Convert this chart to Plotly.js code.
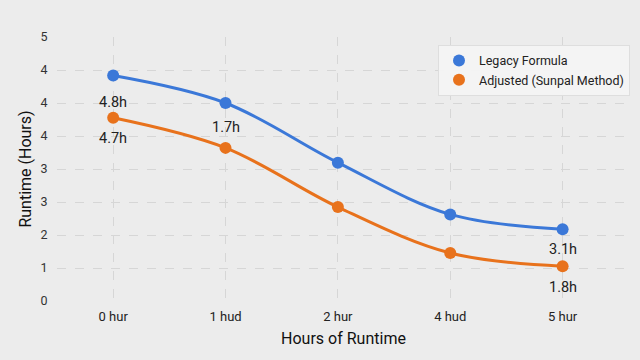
<!DOCTYPE html>
<html>
<head>
<meta charset="utf-8">
<script src="https://cdn.plot.ly/plotly-3.0.1.min.js"></script>
<style>html,body{margin:0;padding:0;background:#ececec;}#chart{width:640px;height:360px;}</style>
</head>
<body>
<div id="chart"></div>
<script>
var categories = ['0 hur', '1 hud', '2 hur', '4 hud', '5 hur'];
var legacyValues = [4.27, 3.75, 2.62, 1.64, 1.36];
var adjustedValues = [3.47, 2.9, 1.78, 0.91, 0.66];
var yTickValues = [0, 0.625, 1.25, 1.875, 2.5, 3.125, 3.75, 4.375, 5];
var yTickLabels = ['0', '1', '2', '3', '3', '4', '4', '4', '5'];
var labelTexts = ['4.8h', '4.7h', '1.7h', '3.1h', '1.8h'];
var labelSeries = ['adjusted', 'adjusted', 'adjusted', 'legacy', 'adjusted'];
var labelIndex = [0, 0, 1, 4, 4];
var labelShift = [15, -21, 20, -20, -21];

var blue = '#3b78d8';
var orange = '#e8721c';

var series = {legacy: legacyValues, adjusted: adjustedValues};
var annotations = labelTexts.map(function (t, i) {
  return {
    x: categories[labelIndex[i]],
    y: series[labelSeries[i]][labelIndex[i]],
    text: t, showarrow: false, yshift: labelShift[i],
    font: {size: 14.5, color: '#222'}
  };
});

var traces = [
  {x: categories, y: legacyValues, mode: 'lines+markers', line: {color: blue, width: 3, shape: 'spline', smoothing: 1}, marker: {color: blue, size: 12}, showlegend: false, hoverinfo: 'skip'},
  {x: categories, y: adjustedValues, mode: 'lines+markers', line: {color: orange, width: 3, shape: 'spline', smoothing: 1}, marker: {color: orange, size: 12}, showlegend: false, hoverinfo: 'skip'},
  {x: [null], y: [null], mode: 'markers', name: 'Legacy Formula', marker: {color: blue, size: 15}},
  {x: [null], y: [null], mode: 'markers', name: 'Adjusted (Sunpal Method)', marker: {color: orange, size: 15}}
];

var layout = {
  width: 640, height: 360,
  paper_bgcolor: '#ececec', plot_bgcolor: '#ececec',
  font: {family: 'Roboto, sans-serif', color: '#333'},
  margin: {l: 57, r: 10, t: 37, b: 59},
  xaxis: {
    type: 'category', range: [-0.5, 4.6],
    showgrid: true, gridcolor: '#d6d6d6', griddash: 'dash', gridwidth: 1,
    zeroline: false, showline: false, ticks: 'outside', ticklen: 3, tickcolor: 'rgba(0,0,0,0)',
    tickfont: {size: 13, color: '#222'},
    title: {text: 'Hours of Runtime', font: {size: 16, color: '#111'}, standoff: 10}
  },
  yaxis: {
    range: [0, 5], tickvals: yTickValues, ticktext: yTickLabels,
    showgrid: true, gridcolor: '#d6d6d6', griddash: 'dash', gridwidth: 1,
    zeroline: false, showline: false, ticks: 'outside', ticklen: 6, tickcolor: 'rgba(0,0,0,0)',
    tickfont: {size: 12.5, color: '#333'},
    title: {text: 'Runtime (Hours)', font: {size: 16, color: '#111'}, standoff: 4}
  },
  legend: {
    x: 1.0, y: 0.97, xanchor: 'right', yanchor: 'top',
    bgcolor: 'rgba(244,244,244,0.95)', bordercolor: '#dedede', borderwidth: 1,
    font: {size: 12.5, color: '#222'}, itemsizing: 'constant', itemwidth: 30, tracegroupgap: 6
  },
  annotations: annotations
};

Plotly.newPlot('chart', traces, layout, {displayModeBar: false, staticPlot: true});
</script>
</body>
</html>
